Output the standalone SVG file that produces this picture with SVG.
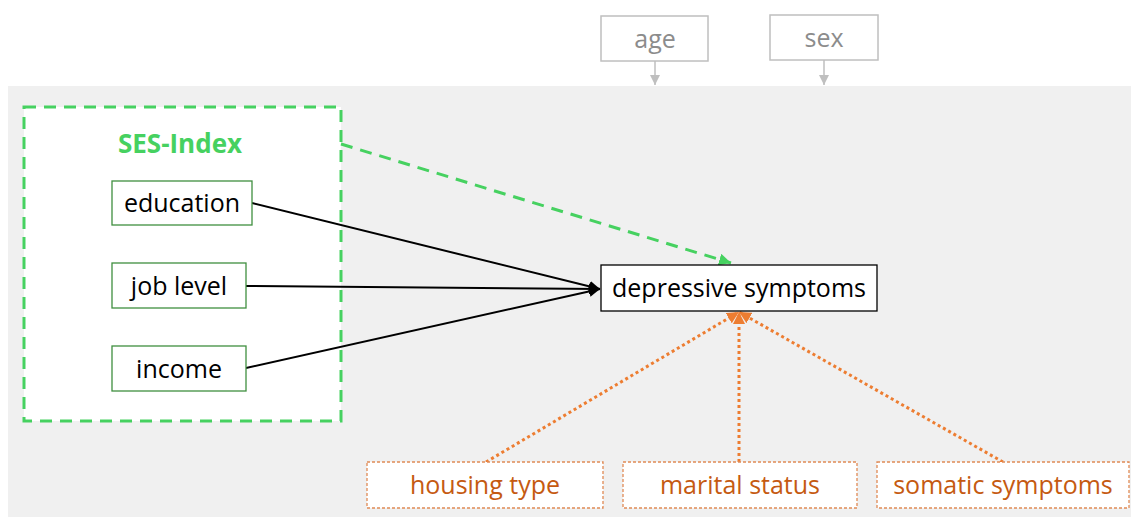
<svg xmlns="http://www.w3.org/2000/svg" width="1131" height="517" viewBox="0 0 1131 517">
<defs>
<style>
text{font-family:"Open Sans","Liberation Sans",sans-serif;text-anchor:middle}
.cov rect{fill:#fff;stroke:#bfbfbf;stroke-width:1.5}
.cov text{fill:#8c8c8c;font-size:25px}
.ses rect{fill:#fff;stroke:#3f8f3f;stroke-width:1.3}
.ses text{fill:#000;font-size:25px}
.out rect{fill:#fff;stroke:#000;stroke-width:1.3}
.out text{fill:#000;font-size:25px}
.mod rect{fill:#fff;stroke:#e08a55;stroke-width:1.3;stroke-dasharray:3 2}
.mod text{fill:#c55a11;font-size:25px}
</style>
<marker id="ag" viewBox="0 0 10 10" refX="10" refY="5" markerWidth="10" markerHeight="10" markerUnits="userSpaceOnUse" orient="auto"><path d="M0,0 L10,5 L0,10 z" fill="#bfbfbf"/></marker>
<marker id="ab" viewBox="0 0 10 10" refX="10" refY="5" markerWidth="11" markerHeight="11" markerUnits="userSpaceOnUse" orient="auto"><path d="M0,0 L10,5 L0,10 z" fill="#000"/></marker>
<marker id="agr" viewBox="0 0 10 10" refX="10" refY="5" markerWidth="12" markerHeight="12" markerUnits="userSpaceOnUse" orient="auto"><path d="M0,0 L10,5 L0,10 z" fill="#46d160"/></marker>
<marker id="ao" viewBox="0 0 10 10" refX="10" refY="5" markerWidth="12" markerHeight="12" markerUnits="userSpaceOnUse" orient="auto"><path d="M0,0 L10,5 L0,10 z" fill="#ed7d31"/></marker>
</defs>
<rect x="0" y="0" width="1131" height="517" fill="#fff"/>
<rect x="8" y="86" width="1123" height="431" fill="#f0f0f0"/>
<g id="ses-index">
<rect x="24" y="107" width="317" height="314" fill="#fff" stroke="#46d160" stroke-width="3" stroke-dasharray="12 8"/>
<text x="180" y="153" fill="#46d160" style="font-size:26px;font-weight:bold">SES-Index</text>
</g>
<g id="connectors">
<line x1="655" y1="61" x2="655" y2="85" stroke="#bfbfbf" stroke-width="1.5" marker-end="url(#ag)"/>
<line x1="824" y1="60" x2="824" y2="85" stroke="#bfbfbf" stroke-width="1.5" marker-end="url(#ag)"/>
<line x1="252" y1="203" x2="600" y2="289" stroke="#000" stroke-width="2" marker-end="url(#ab)"/>
<line x1="246" y1="286" x2="600" y2="289" stroke="#000" stroke-width="2" marker-end="url(#ab)"/>
<line x1="246" y1="368" x2="600" y2="289" stroke="#000" stroke-width="2" marker-end="url(#ab)"/>
<line x1="341" y1="144" x2="731" y2="263" stroke="#46d160" stroke-width="3" stroke-dasharray="12 8" marker-end="url(#agr)"/>
<line x1="486" y1="462" x2="739" y2="312" stroke="#ed7d31" stroke-width="3" stroke-dasharray="3 3" marker-end="url(#ao)"/>
<line x1="739" y1="462" x2="739" y2="312" stroke="#ed7d31" stroke-width="3" stroke-dasharray="3 3" marker-end="url(#ao)"/>
<line x1="1003" y1="462" x2="739" y2="312" stroke="#ed7d31" stroke-width="3" stroke-dasharray="3 3" marker-end="url(#ao)"/>
</g>
<g id="age" class="cov"><rect x="601" y="16" width="107" height="45"/><text x="655" y="48">age</text></g>
<g id="sex" class="cov"><rect x="770" y="15" width="108" height="45"/><text x="824" y="47">sex</text></g>
<g id="education" class="ses"><rect x="112" y="181" width="140" height="44"/><text x="182" y="212">education</text></g>
<g id="job-level" class="ses"><rect x="112" y="263" width="134" height="45"/><text x="179" y="295">job level</text></g>
<g id="income" class="ses"><rect x="112" y="346" width="134" height="45"/><text x="179" y="378">income</text></g>
<g id="depressive-symptoms" class="out"><rect x="601" y="265" width="276" height="46"/><text x="739" y="297">depressive symptoms</text></g>
<g id="housing-type" class="mod"><rect x="367" y="462" width="236" height="46"/><text x="485" y="494">housing type</text></g>
<g id="marital-status" class="mod"><rect x="623" y="462" width="234" height="46"/><text x="740" y="494">marital status</text></g>
<g id="somatic-symptoms" class="mod"><rect x="877" y="462" width="252" height="46"/><text x="1003" y="494">somatic symptoms</text></g>
</svg>
